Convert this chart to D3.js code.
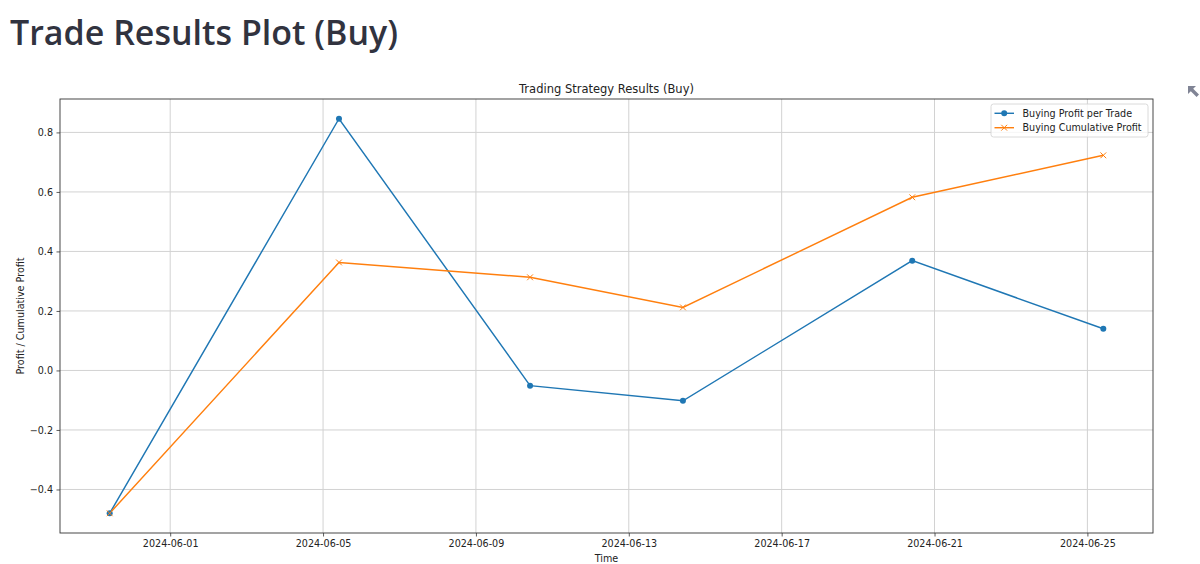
<!DOCTYPE html>
<html>
<head>
<meta charset="utf-8">
<script src="https://cdn.jsdelivr.net/npm/d3@7"></script>
<style>
  body { margin: 0; background: #fff; }
  svg { display: block; }
  .tick text { font-family: "DejaVu Sans", sans-serif; font-size: 9.6px; fill: #222; }
</style>
</head>
<body>
<svg id="chart"></svg>
<script>
'use strict';

// values
const tradeTimes = ['2024-05-30T10:00', '2024-06-05T10:00', '2024-06-10T10:00',
  '2024-06-14T10:00', '2024-06-20T10:00', '2024-06-25T10:00'];
const profitPerTrade = [-0.480, 0.846, -0.051, -0.102, 0.369, 0.140];
const cumulativeProfit = [-0.480, 0.363, 0.313, 0.212, 0.582, 0.723];
const xTickLabels = ['2024-06-01', '2024-06-05', '2024-06-09', '2024-06-13',
  '2024-06-17', '2024-06-21', '2024-06-25'];
const yTickValues = [-0.4, -0.2, 0.0, 0.2, 0.4, 0.6, 0.8];
const seriesNames = ['Buying Profit per Trade', 'Buying Cumulative Profit'];
const seriesColors = ['#1f77b4', '#ff7f0e'];

const W = 1200;
const H = 564;
const margin = {top: 99, right: 47, bottom: 31, left: 60};
const width = W - margin.left - margin.right;
const height = H - margin.top - margin.bottom;
const font = '"DejaVu Sans", sans-serif';

const parseTime = d3.timeParse('%Y-%m-%dT%H:%M');
const parseDay = d3.timeParse('%Y-%m-%d');
const times = tradeTimes.map(parseTime);

// matplotlib style 5% padding on both axes
function padded(extent) {
  const pad = (extent[1] - extent[0]) * 0.05;
  return [extent[0] - pad, extent[1] + pad];
}

const xExtent = d3.extent(times).map(d => +d);
const xScale = d3.scaleTime()
  .domain(padded(xExtent).map(d => new Date(d)))
  .range([0, width]);

const yScale = d3.scaleLinear()
  .domain(padded(d3.extent(profitPerTrade.concat(cumulativeProfit))))
  .range([height, 0]);

const svg = d3.select('#chart')
  .attr('width', W)
  .attr('height', H);

// page heading
svg.append('text')
  .attr('x', 10)
  .attr('y', 45)
  .attr('textLength', 388)
  .attr('lengthAdjust', 'spacingAndGlyphs')
  .style('font-family', '"Open Sans", "Noto Sans", sans-serif')
  .style('font-weight', 600)
  .style('font-size', '35px')
  .style('fill', '#31333f')
  .text('Trade Results Plot (Buy)');

// fullscreen arrow icon
svg.append('path')
  .attr('d', 'M1188,86 L1196,86 L1193.2,88.8 L1199,94.6 L1196.6,97 L1190.8,91.2 L1188,94 Z')
  .attr('fill', '#808495');

const g = svg.append('g')
  .attr('transform', `translate(${margin.left},${margin.top})`);

const xTicks = xTickLabels.map(parseDay);

// grid
g.append('g')
  .selectAll('line')
  .data(xTicks)
  .join('line')
  .attr('x1', d => xScale(d))
  .attr('x2', d => xScale(d))
  .attr('y1', 0)
  .attr('y2', height)
  .attr('stroke', '#d2d2d2')
  .attr('stroke-width', 1);

g.append('g')
  .selectAll('line')
  .data(yTickValues)
  .join('line')
  .attr('x1', 0)
  .attr('x2', width)
  .attr('y1', d => yScale(d))
  .attr('y2', d => yScale(d))
  .attr('stroke', '#d2d2d2')
  .attr('stroke-width', 1);

// axes
const xAxis = g.append('g')
  .attr('transform', `translate(0,${height})`)
  .call(d3.axisBottom(xScale)
    .tickValues(xTicks)
    .tickFormat(d3.timeFormat('%Y-%m-%d'))
    .tickSize(3.5)
    .tickPadding(4));

const yAxis = g.append('g')
  .call(d3.axisLeft(yScale)
    .tickValues(yTickValues)
    .tickFormat(d => d3.format('.1f')(d).replace('-', '\u2212'))
    .tickSize(3.5)
    .tickPadding(3.5));

[xAxis, yAxis].forEach(a => {
  a.select('.domain').remove();
  a.selectAll('.tick line').attr('stroke', '#333').attr('stroke-width', 0.8);
});

// frame
g.append('rect')
  .attr('width', width)
  .attr('height', height)
  .attr('fill', 'none')
  .attr('stroke', '#333')
  .attr('stroke-width', 0.9);

// lines
const series = [profitPerTrade, cumulativeProfit];
const line = d3.line()
  .x((d, i) => xScale(times[i]))
  .y(d => yScale(d));

series.forEach((values, s) => {
  g.append('path')
    .datum(values)
    .attr('d', line)
    .attr('fill', 'none')
    .attr('stroke', seriesColors[s])
    .attr('stroke-width', 1.45);
});

// markers
g.append('g')
  .selectAll('circle')
  .data(profitPerTrade)
  .join('circle')
  .attr('cx', (d, i) => xScale(times[i]))
  .attr('cy', d => yScale(d))
  .attr('r', 3)
  .attr('fill', seriesColors[0]);

const xMark = 'M-2.9,-2.9L2.9,2.9M-2.9,2.9L2.9,-2.9';
g.append('g')
  .selectAll('path')
  .data(cumulativeProfit)
  .join('path')
  .attr('transform', (d, i) => `translate(${xScale(times[i])},${yScale(d)})`)
  .attr('d', xMark)
  .attr('stroke', seriesColors[1])
  .attr('stroke-width', 1)
  .attr('fill', 'none');

// titles
g.append('text')
  .attr('x', width / 2)
  .attr('y', -6)
  .attr('text-anchor', 'middle')
  .style('font-family', font)
  .style('font-size', '11.5px')
  .style('fill', '#222')
  .text('Trading Strategy Results (Buy)');

g.append('text')
  .attr('x', width / 2)
  .attr('y', height + 29)
  .attr('text-anchor', 'middle')
  .style('font-family', font)
  .style('font-size', '9.6px')
  .style('fill', '#222')
  .text('Time');

g.append('text')
  .attr('transform', `translate(${23.5 - margin.left},${height / 2}) rotate(-90)`)
  .attr('text-anchor', 'middle')
  .style('font-family', font)
  .style('font-size', '9.6px')
  .style('fill', '#222')
  .text('Profit / Cumulative Profit');

// legend
const legend = g.append('g')
  .attr('transform', `translate(${width - 162},5)`);

legend.append('rect')
  .attr('width', 157)
  .attr('height', 33)
  .attr('rx', 2.5)
  .attr('fill', '#fff')
  .attr('fill-opacity', 0.8)
  .attr('stroke', '#d0d0d0')
  .attr('stroke-width', 0.8);

seriesNames.forEach((name, s) => {
  const row = legend.append('g')
    .attr('transform', `translate(0,${9.3 + s * 14.4})`);
  row.append('line')
    .attr('x1', 3.5)
    .attr('x2', 23)
    .attr('stroke', seriesColors[s])
    .attr('stroke-width', 1.45);
  if (s === 0) {
    row.append('circle')
      .attr('cx', 13.2)
      .attr('r', 3)
      .attr('fill', seriesColors[s]);
  } else {
    row.append('path')
      .attr('transform', 'translate(13.2,0)')
      .attr('d', xMark)
      .attr('stroke', seriesColors[s])
      .attr('fill', 'none');
  }
  row.append('text')
    .attr('x', 31.5)
    .attr('y', 3.4)
    .style('font-family', font)
    .style('font-size', '9.6px')
    .style('fill', '#222')
    .text(name);
});
</script>
</body>
</html>
